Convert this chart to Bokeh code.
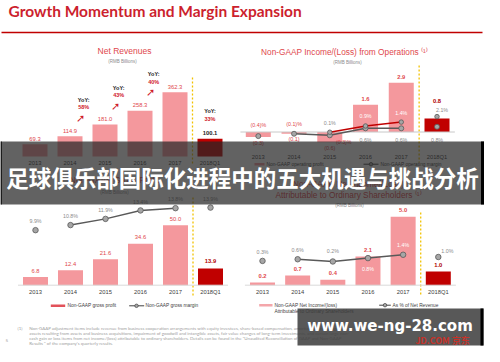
from bokeh.plotting import figure
from bokeh.models import Range1d
from bokeh.core.properties import value
from bokeh.embed import file_html
from bokeh.resources import INLINE

# ---------------- data ----------------
years = ["2013", "2014", "2015", "2016", "2017", "2018Q1"]
net_revenues = [69.3, 114.9, 181.0, 258.3, 362.3, 100.1]
yoy_labels = ["58%", "43%", "40%"]          # 2015, 2016, 2017 vs prior year
yoy_q1 = "33%"
op_income = [-0.3, -0.1, -0.6, 1.6, 2.9, 0.8]
op_margin_grey = [-0.4, -0.1, -0.3, 0.6, 0.6, 0.8]
op_margin_red = [None, None, 0.1, 0.9, 1.4, 2.1]
gross_profit = [6.8, 12.4, 21.6, 34.6, 50.0, 13.9]
gross_margin = [9.9, 10.8, 11.9, 13.4, 13.8, 13.9]
net_income = [0.2, 0.7, 0.4, 2.1, 5.0, 1.0]
net_margin = [0.3, 0.6, 0.2, 0.8, 1.4, 1.0]

footnote = [
    "Non-GAAP adjustment items include revenue from business cooperation arrangements with equity investees, share-based compensation, amortization of intangible",
    "assets resulting from assets and business acquisitions, impairment of goodwill and intangible assets, fair value changes of long-term investments, and certain large non-",
    "cash gain or loss items from net income/(loss) attributable to ordinary shareholders. Details can be found in the \"Unaudited Reconciliation of GAAP and Non-GAAP",
    "Results \" of the company's quarterly results.",
]

# ---------------- styles ----------------
PINK = "#F4989D"
DARK = "#C00000"
RED_TXT = "#E0474C"
GREY_TXT = "#8C8C8C"
LINE_GREY = "#595959"
MARK_FILL = "#A6A6A6"
YEL = "#F2C200"
FONT = "Liberation Sans"

W, H = 484, 346
L, T = 8, 8

p = figure(width=W, height=H, x_range=Range1d(L, L + W), y_range=Range1d(T + H, T),
           output_backend="svg", toolbar_location=None, x_axis_type=None, y_axis_type=None,
           min_border=0, outline_line_color=None, background_fill_color="white")


def xr(px0, k):
    s = -(px0 - L) / k
    return Range1d(start=s, end=s + W / k)


def yr(px0, k):
    s = -(T + H - px0) / k
    return Range1d(start=s, end=s + H / k)


def txt(x, y, s, size, color, xn="default", yn="default", align="center", bold=False,
        font=FONT, xo=0, yo=0, alpha=1.0, baseline="middle"):
    if not isinstance(x, list):
        x, y, s = [x], [y], [s]
    p.text(x=x, y=y, text=s, x_range_name=xn, y_range_name=yn,
           text_font=value(font), text_font_size=f"{size}px", text_color=color,
           text_align=align, text_baseline=baseline, x_offset=xo, y_offset=yo,
           text_font_style="bold" if bold else "normal", text_alpha=alpha)


def fmt(v):
    return f"({abs(v):.1f})" if v < 0 else f"{v:.1f}"


def fmtp(v):
    return f"({abs(v):.1f})%" if v < 0 else f"{v:.1f}%"


idx = list(range(len(years)))
sep_x = len(years) - 1.5
colors = [PINK] * (len(years) - 1) + [DARK]

# ---------------- slide title ----------------
txt(16, 18, "Growth Momentum and Margin Expansion", 15.5, "#CC1F2E", align="left", bold=True, font="Lato")
p.segment(x0=[9], y0=[40], x1=[490], y1=[40], line_color="#C00000", line_width=1.5)

# ---------------- chart 1 : Net Revenues ----------------
p.extra_x_ranges["x1"] = xr(42.5, 35.0)
p.extra_y_ranges["y1"] = yr(164.0, 0.177)
txt(132, 58.5, "Net Revenues", 8.5, RED_TXT)
txt(130, 69, "(RMB Billions)", 4.5, GREY_TXT)
p.segment(x0=[sep_x], y0=[85], x1=[sep_x], y1=[172], x_range_name="x1",
          line_color=YEL, line_width=1.3, line_dash="2 2")
p.vbar(x=idx, top=net_revenues, bottom=0, width=25 / 35, fill_color=colors, line_color=None,
       x_range_name="x1", y_range_name="y1")
txt(idx[:-1], net_revenues[:-1], [fmt(v) for v in net_revenues[:-1]], 5.8, RED_TXT, "x1", "y1", yo=-5.5)
txt(idx[-1], net_revenues[-1], fmt(net_revenues[-1]), 5.8, "#222222", "x1", "y1", yo=-6, bold=True)
txt(idx, [0] * len(idx), years, 5.8, "#404040", "x1", "y1", yo=6.5)
for i, lab in enumerate(yoy_labels):
    prev = net_revenues[i + 1]
    xi = i + 1 + 0.39
    txt(xi, prev, "YoY:", 5.5, "#222222", "x1", "y1", yo=-36.5, bold=True)
    txt(xi, prev, lab, 5.5, "#D0202C", "x1", "y1", yo=-29, bold=True)
    txt(xi, prev, "\u279a", 11, "#D0202C", "x1", "y1", yo=-18, xo=-3, font="DejaVu Sans")
txt(idx[-1], net_revenues[-1], "YoY:", 5.5, "#222222", "x1", "y1", yo=-27.5, bold=True)
txt(idx[-1], net_revenues[-1], yoy_q1, 5.5, "#D0202C", "x1", "y1", yo=-19.5, bold=True)

# ---------------- chart 2 : Non-GAAP income from operations ----------------
p.extra_x_ranges["x2"] = xr(265.8, 35.74)
p.extra_y_ranges["y2"] = yr(139.5, 17.0)
p.extra_y_ranges["m2"] = yr(140.5, 7.8)
txt(352, 59, "Non-GAAP Income/(Loss) from Operations \u207d\u00b9\u207e", 8.3, RED_TXT)
txt(355, 70, "(RMB Billions)", 4.5, GREY_TXT)
p.segment(x0=[sep_x], y0=[73], x1=[sep_x], y1=[170], x_range_name="x2",
          line_color=YEL, line_width=1.3, line_dash="2 2")
p.vbar(x=idx, top=op_income, bottom=0, width=25 / 35.74, fill_color=colors, line_color=None,
       x_range_name="x2", y_range_name="y2")
p.segment(x0=[-0.5], y0=[0], x1=[5.5], y1=[0], x_range_name="x2", y_range_name="y2",
          line_color="#C8C8C8", line_width=1)
for i, v in enumerate(op_income):
    if i == len(op_income) - 1:
        txt(i, v, fmt(v), 5.8, "#B00000", "x2", "y2", yo=-17, bold=True)
    elif v >= 0:
        txt(i, v, fmt(v), 5.8, RED_TXT, "x2", "y2", yo=-5.5, bold=True)
    else:
        txt(i, v, fmt(v), 5.5, RED_TXT, "x2", "y2", yo=5.5)
txt(idx, [0] * len(idx), years, 5.8, "#404040", "x2", "y2", yo=24.5)
# grey margin line (2014-2017 connected)
p.line(x=idx[1:5], y=op_margin_grey[1:5], x_range_name="x2", y_range_name="m2",
       line_color=LINE_GREY, line_width=1.5)
red_x = [i for i in idx[:5] if op_margin_red[i] is not None]
p.line(x=red_x, y=[op_margin_red[i] for i in red_x], x_range_name="x2", y_range_name="m2",
       line_color="#C00000", line_width=1.5)
p.scatter(x=idx, y=op_margin_grey, x_range_name="x2", y_range_name="m2", size=5,
          fill_color=MARK_FILL, line_color=LINE_GREY, line_width=0.8)
rx_all = [i for i in idx if op_margin_red[i] is not None]
p.scatter(x=rx_all, y=[op_margin_red[i] for i in rx_all], x_range_name="x2", y_range_name="m2",
          size=4.5, fill_color=MARK_FILL, line_color=LINE_GREY, line_width=0.8)
g_off = [(0, -11), (0, -10), (14, 7), None, None, None]
for i, v in enumerate(op_margin_grey):
    c = RED_TXT if v < 0 else GREY_TXT
    if g_off[i] is None:
        txt(i, 0, fmtp(v), 5.3, c, "x2", "y2", yo=8)
    else:
        txt(i, v, fmtp(v), 5.3, c, "x2", "m2", xo=g_off[i][0], yo=g_off[i][1])
r_style = {2: (0, -9, GREY_TXT), 3: (0, -10, "white"), 4: (0, -9, "white"), 5: (5, -6.5, GREY_TXT)}
for i, (xo, yo, c) in r_style.items():
    txt(i, op_margin_red[i], fmtp(op_margin_red[i]), 5.3, c, "x2", "m2", xo=xo, yo=yo)
# legend
p.quad(left=[262], right=[272], top=[170.5], bottom=[173], fill_color=PINK, line_color=None)
txt(274, 171.7, "Non-GAAP operating profit", 4.8, "#404040", align="left")
p.segment(x0=[371], y0=[171.7], x1=[386], y1=[171.7], line_color="#404040", line_width=1)
p.scatter(x=[378.5], y=[171.7], size=3.5, fill_color=MARK_FILL, line_color="#404040", line_width=0.7)
txt(388, 171.7, "Non-GAAP operating margin", 4.8, "#404040", align="left")

# ---------------- chart 3 : Gross profit ----------------
p.extra_x_ranges["x3"] = xr(43.0, 35.0)
p.extra_y_ranges["y3"] = yr(292.7, 1.2)
p.extra_y_ranges["m3"] = yr(293.5, 5.64)
txt(122, 187, "Non-GAAP Gross Profit", 8.5, RED_TXT)
txt(122, 199.5, "(RMB Billions)", 4.5, GREY_TXT)
p.segment(x0=[sep_x], y0=[205], x1=[sep_x], y1=[304], x_range_name="x3",
          line_color=YEL, line_width=1.3, line_dash="2 2")
p.vbar(x=idx, top=gross_profit, bottom=0, width=25 / 35, fill_color=colors, line_color=None,
       x_range_name="x3", y_range_name="y3")
p.segment(x0=[-0.5], y0=[0], x1=[5.5], y1=[0], x_range_name="x3", y_range_name="y3",
          line_color="#D9D9D9", line_width=1)
txt(idx[:-1], gross_profit[:-1], [fmt(v) for v in gross_profit[:-1]], 5.8, RED_TXT, "x3", "y3", yo=-6.5)
txt(idx[-1], gross_profit[-1], fmt(gross_profit[-1]), 5.8, "#B00000", "x3", "y3", yo=-7.5, bold=True)
txt(idx, [0] * len(idx), years, 5.8, "#404040", "x3", "y3", yo=6.8)
p.line(x=idx[1:5], y=gross_margin[1:5], x_range_name="x3", y_range_name="m3",
       line_color=LINE_GREY, line_width=1.5)
p.scatter(x=idx, y=gross_margin, x_range_name="x3", y_range_name="m3", size=5.5,
          fill_color=MARK_FILL, line_color=LINE_GREY, line_width=0.8)
txt(idx, gross_margin, [fmtp(v) for v in gross_margin], 5.3, GREY_TXT, "x3", "m3", yo=-8.8)
# legend
p.quad(left=[58.3], right=[72.7], top=[312], bottom=[314.6], fill_color="#E2525A", line_color=None)
txt(75, 313.3, "Non-GAAP gross profit", 4.8, "#404040", align="left")
p.segment(x0=[136.7], y0=[313.3], x1=[151.7], y1=[313.3], line_color="#404040", line_width=1)
p.scatter(x=[144], y=[313.3], size=3.5, fill_color=MARK_FILL, line_color="#404040", line_width=0.7)
txt(153, 313.3, "Non-GAAP gross margin", 4.8, "#404040", align="left")

# ---------------- chart 4 : Net income ----------------
p.extra_x_ranges["x4"] = xr(270.0, 35.16)
p.extra_y_ranges["y4"] = yr(292.7, 13.7)
p.extra_y_ranges["m4"] = yr(270.1, 5.6)
txt(356, 191, "Non-GAAP Net Income/(Loss)", 8.3, RED_TXT)
txt(356, 202, "Attributable to Ordinary Shareholders \u207d\u00b9\u207e", 8.3, RED_TXT)
txt(357, 213, "(RMB Billions)", 4.5, GREY_TXT)
p.segment(x0=[sep_x], y0=[220], x1=[sep_x], y1=[304], x_range_name="x4",
          line_color=YEL, line_width=1.3, line_dash="2 2")
p.vbar(x=idx, top=net_income, bottom=0, width=25 / 35.16, fill_color=colors, line_color=None,
       x_range_name="x4", y_range_name="y4")
p.segment(x0=[-0.5], y0=[0], x1=[5.5], y1=[0], x_range_name="x4", y_range_name="y4",
          line_color="#D9D9D9", line_width=1)
txt(idx[:-1], net_income[:-1], [fmt(v) for v in net_income[:-1]], 5.8, RED_TXT, "x4", "y4", yo=-6.5, bold=True)
txt(idx[-1], net_income[-1], fmt(net_income[-1]), 5.8, "#B00000", "x4", "y4", yo=-6.8, bold=True)
txt(idx, [0] * len(idx), years, 5.8, "#404040", "x4", "y4", yo=6.8)
p.line(x=idx[1:5], y=net_margin[1:5], x_range_name="x4", y_range_name="m4",
       line_color=LINE_GREY, line_width=1.5)
p.scatter(x=idx, y=net_margin, x_range_name="x4", y_range_name="m4", size=5.5,
          fill_color=MARK_FILL, line_color=LINE_GREY, line_width=0.8)
n_style = [(0, -9, GREY_TXT), (0, -9, GREY_TXT), (0, -10, GREY_TXT), (0, 10.5, "white"),
           (0, -9.5, "white"), (9, -6, GREY_TXT)]
for i, v in enumerate(net_margin):
    xo, yo, c = n_style[i]
    txt(i, v, fmtp(v), 5.3, c, "x4", "m4", xo=xo, yo=yo)
# legend
p.quad(left=[266.7], right=[280], top=[311.5], bottom=[314], fill_color="#F4A6AA", line_color=None)
txt(282, 312.7, "Non-GAAP Net Income/(loss)", 4.8, "#404040", align="left")
txt(282, 319.3, "Attributable to Ordinary Shareholders", 4.8, "#404040", align="left")
p.segment(x0=[386.7], y0=[312.7], x1=[398.3], y1=[312.7], line_color="#404040", line_width=1)
p.scatter(x=[392.5], y=[312.7], size=3.5, fill_color=MARK_FILL, line_color="#404040", line_width=0.7)
txt(400, 312.7, "As % of Net Revenue", 4.8, "#404040", align="left")

# ---------------- footnote ----------------
txt(25, 335.5, "(1)", 4.4, "#A0A0A0", align="left", font="Lato")
txt(13, 348, "5", 4.6, "#A0A0A0", align="left", font="Lato")
txt([36.7] * len(footnote), [335.5 + 5 * k for k in range(len(footnote))], footnote, 4.4,
    "#A0A0A0", align="left", font="Lato")

# ---------------- overlays ----------------
p.quad(left=[8], right=[492], top=[149], bottom=[212], fill_color="#262626", fill_alpha=0.72, line_color=None)
p.quad(left=[8], right=[9.2], top=[149], bottom=[212], fill_color="black", line_color=None)
p.quad(left=[488.5], right=[492], top=[149], bottom=[212], fill_color="black", line_color=None)
txt(250, 184, "足球俱乐部国际化进程中的五大机遇与挑战分析", 22.5, "white", bold=True,
    font="Noto Sans CJK SC")

p.quad(left=[305], right=[491], top=[316], bottom=[353], fill_color="#3C3C3C", fill_alpha=0.86, line_color=None)
p.quad(left=[488], right=[491], top=[316], bottom=[353], fill_color="black", line_color=None)
txt(397.5, 333.5, "www.we-ng-28.com", 15, "white", bold=True, font="DejaVu Sans")
txt(450, 348, "JD.COM 京东", 9, "#D42E24", bold=True, font="Noto Sans CJK SC", alpha=0.9)

open("out.html", "w").write(file_html(p, INLINE))
